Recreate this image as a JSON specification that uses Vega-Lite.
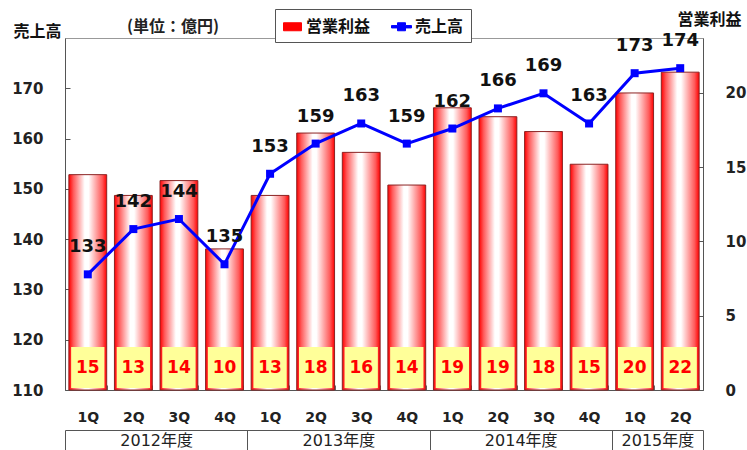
{
  "$schema": "https://vega.github.io/schema/vega-lite/v6.json",
  "width": 638,
  "height": 352,
  "autosize": {"type": "none"},
  "padding": {"left": 65, "top": 38, "right": 44, "bottom": 60},
  "background": "white",
  "config": {
    "view": {"stroke": "#999", "strokeWidth": 1},
    "font": "DejaVu Sans, Noto Sans CJK JP"
  },
  "title": {
    "text": "(単位：億円)",
    "anchor": "start",
    "frame": "group",
    "dx": 62,
    "dy": 26,
    "offset": -8,
    "baseline": "middle",
    "fontSize": 16,
    "fontWeight": "bold",
    "font": "Noto Sans CJK JP",
    "color": "#222"
  },
  "datasets": {
    "main": [
      {"period": "2012-1Q", "sales": 133, "profit": 14.5, "profit_label": "15"},
      {"period": "2012-2Q", "sales": 142, "profit": 13.1, "profit_label": "13"},
      {"period": "2012-3Q", "sales": 144, "profit": 14.1, "profit_label": "14"},
      {"period": "2012-4Q", "sales": 135, "profit": 9.5, "profit_label": "10"},
      {"period": "2013-1Q", "sales": 153, "profit": 13.1, "profit_label": "13"},
      {"period": "2013-2Q", "sales": 159, "profit": 17.3, "profit_label": "18"},
      {"period": "2013-3Q", "sales": 163, "profit": 16.0, "profit_label": "16"},
      {"period": "2013-4Q", "sales": 159, "profit": 13.8, "profit_label": "14"},
      {"period": "2014-1Q", "sales": 162, "profit": 19.0, "profit_label": "19"},
      {"period": "2014-2Q", "sales": 166, "profit": 18.4, "profit_label": "19"},
      {"period": "2014-3Q", "sales": 169, "profit": 17.4, "profit_label": "18"},
      {"period": "2014-4Q", "sales": 163, "profit": 15.2, "profit_label": "15"},
      {"period": "2015-1Q", "sales": 173, "profit": 20.0, "profit_label": "20"},
      {"period": "2015-2Q", "sales": 174, "profit": 21.4, "profit_label": "22"}
    ],
    "fy": [{"pos": 0}, {"pos": 14}]
  },
  "layer": [
    {
      "data": {"name": "main"},
      "encoding": {
        "x": {
          "field": "period",
          "type": "ordinal",
          "scale": {"paddingInner": 0.17, "paddingOuter": 0.085},
          "axis": {
            "labelExpr": "isValid(datum.value) ? substring(datum.value, 5) : ''",
            "labelAngle": 0,
            "title": null,
            "tickBand": "extent",
            "tickSize": -5,
            "tickColor": "#666",
            "domainColor": "#555",
            "labelFontSize": 14,
            "labelFontWeight": "bold",
            "labelBaseline": "middle",
            "labelPadding": 32,
            "labelColor": "#222",
            "labelFont": "DejaVu Sans"
          }
        }
      },
      "layer": [
        {
          "mark": {
            "type": "bar",
            "stroke": "#8c2323",
            "strokeWidth": 1,
            "fill": {
              "gradient": "linear",
              "x1": 0, "y1": 0, "x2": 1, "y2": 0,
              "stops": [
                {"offset": 0, "color": "#ff0000"},
                {"offset": 0.12, "color": "#ff5a5a"},
                {"offset": 0.42, "color": "#ffffff"},
                {"offset": 0.52, "color": "#ffffff"},
                {"offset": 0.88, "color": "#ff5a5a"},
                {"offset": 1, "color": "#ff0000"}
              ]
            }
          },
          "encoding": {
            "y": {
              "field": "profit",
              "type": "quantitative",
              "scale": {"domain": [0, 23.7], "nice": false, "zero": true},
              "axis": {
                "orient": "right",
                "values": [0, 5, 10, 15, 20],
                "tickSize": -5,
                "labelPadding": 27,
                "labelFontSize": 15,
                "labelFontWeight": "bold",
                "labelColor": "#222",
                "labelFont": "DejaVu Sans",
                "domainColor": "#555",
                "tickColor": "#555",
                "grid": false,
                "title": "営業利益",
                "titleAngle": 0,
                "titleX": 6,
                "titleY": -19,
                "titleAlign": "center",
                "titleBaseline": "middle",
                "titleFontSize": 16,
                "titleFont": "Noto Sans CJK JP",
                "titleFontWeight": "bold",
                "titleColor": "#111"
              }
            }
          }
        },
        {
          "mark": {"type": "bar", "fill": "#ffff99", "width": {"band": 0.88}},
          "encoding": {
            "y": {"datum": 0.13, "type": "quantitative"},
            "y2": {"datum": 2.9}
          }
        },
        {
          "mark": {"type": "text", "fontSize": 17, "fontWeight": "bold", "font": "DejaVu Sans", "baseline": "middle"},
          "encoding": {
            "y": {"datum": 1.5, "type": "quantitative"},
            "text": {"field": "profit_label"},
            "color": {"datum": "営業利益", "type": "nominal"}
          }
        }
      ]
    },
    {
      "data": {"name": "main"},
      "encoding": {
        "x": {
          "field": "period",
          "type": "ordinal",
          "scale": {"paddingInner": 0.17, "paddingOuter": 0.085},
          "axis": null
        },
        "y": {
          "field": "sales",
          "type": "quantitative",
          "scale": {"domain": [110, 180], "nice": false, "zero": false},
          "axis": {
            "orient": "left",
            "values": [110, 120, 130, 140, 150, 160, 170],
            "tickSize": -5,
            "labelPadding": 27,
            "labelFontSize": 15,
            "labelFontWeight": "bold",
            "labelColor": "#222",
            "labelFont": "DejaVu Sans",
            "domainColor": "#555",
            "tickColor": "#555",
            "grid": false,
            "title": "売上高",
            "titleAngle": 0,
            "titleX": -28,
            "titleY": -7,
            "titleAlign": "center",
            "titleBaseline": "middle",
            "titleFontSize": 16,
            "titleFont": "Noto Sans CJK JP",
            "titleFontWeight": "bold",
            "titleColor": "#111"
          }
        }
      },
      "layer": [
        {
          "mark": {"type": "line", "strokeWidth": 3, "point": {"shape": "square", "size": 64, "filled": true}},
          "encoding": {
            "color": {
              "datum": "売上高",
              "type": "nominal",
              "scale": {"domain": ["営業利益", "売上高"], "range": ["#ff0000", "#0000ff"]},
              "legend": {
                "orient": "none",
                "legendX": 210,
                "legendY": -29,
                "direction": "horizontal",
                "title": null,
                "strokeColor": "#555",
                "fillColor": "white",
                "padding": 7,
                "labelFontSize": 16,
                "labelFontWeight": "bold",
                "labelFont": "Noto Sans CJK JP",
                "labelColor": "#111",
                "symbolSize": 400,
                "labelOffset": 3,
                "columnPadding": 18,
                "encode": {
                  "symbols": {
                    "update": {
                      "shape": [
                        {"test": "datum.value === '売上高'", "value": "M-1,-0.12H-0.4V-0.4H0.4V-0.12H1V0.12H0.4V0.4H-0.4V0.12H-1Z"},
                        {"value": "M-0.9,-0.4H0.9V0.4H-0.9Z"}
                      ],
                      "fill": [
                        {"test": "datum.value === '売上高'", "value": "#0000ff"},
                        {"value": {
                          "gradient": "linear", "x1": 0, "y1": 0, "x2": 1, "y2": 0,
                          "stops": [
                            {"offset": 0, "color": "#ff0000"},
                            {"offset": 0.45, "color": "#ffffff"},
                            {"offset": 1, "color": "#ff0000"}
                          ]
                        }}
                      ],
                      "stroke": [
                        {"test": "datum.value === '売上高'", "value": "#0000ff"},
                        {"value": "#8c2323"}
                      ],
                      "strokeWidth": {"value": 1},
                      "opacity": {"value": 1},
                      "fillOpacity": {"value": 1}
                    }
                  }
                }
              }
            }
          }
        },
        {
          "mark": {"type": "text", "fontSize": 18, "fontWeight": "bold", "font": "DejaVu Sans", "baseline": "middle", "dy": -27, "color": "#111"},
          "encoding": {"text": {"field": "sales"}}
        }
      ]
    },
    {
      "data": {"name": "fy"},
      "mark": {"type": "point", "opacity": 0},
      "encoding": {
        "x": {
          "field": "pos",
          "type": "quantitative",
          "scale": {"domain": [0, 14], "nice": false, "zero": false},
          "axis": {
            "orient": "bottom",
            "offset": 40,
            "values": [0, 2, 4, 6, 8, 10, 12, 13, 14],
            "tickSize": 20,
            "tickColor": "#555",
            "domainColor": "#555",
            "tickOpacity": {"condition": {"test": "indexof([0, 4, 8, 12, 14], datum.value) >= 0", "value": 1}, "value": 0},
            "labelExpr": "datum.value == 2 ? '2012年度' : datum.value == 6 ? '2013年度' : datum.value == 10 ? '2014年度' : datum.value == 13 ? '2015年度' : ''",
            "labelPadding": -10,
            "labelBaseline": "middle",
            "labelFontSize": 16,
            "labelFont": "DejaVu Sans, Noto Sans CJK JP",
            "labelColor": "#222",
            "labelOverlap": false,
            "labelFlush": false,
            "title": null,
            "grid": false
          }
        }
      }
    }
  ],
  "resolve": {"scale": {"x": "independent", "y": "independent"}}
}
